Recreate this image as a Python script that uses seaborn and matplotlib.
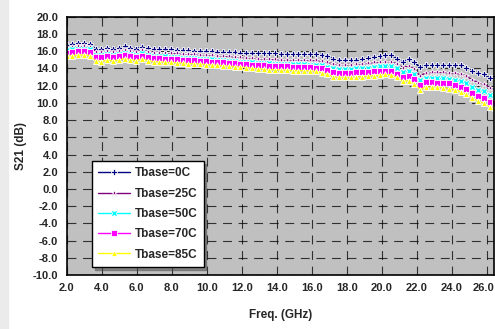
import numpy as np
import pandas as pd
import matplotlib
matplotlib.use("Agg")
import matplotlib.pyplot as plt
import matplotlib.transforms as mtrans
import seaborn as sb
from matplotlib.patches import Rectangle

# S21 vs frequency for five base temperatures
freq = np.round(np.linspace(2.0, 26.5, 75), 3)

s21_0C = [16.75, 16.85, 16.90, 16.90, 16.85, 16.25, 16.25, 16.35, 16.30, 16.35,
          16.55, 16.40, 16.30, 16.50, 16.35, 16.25, 16.25, 16.20, 16.20, 16.15,
          16.10, 16.10, 16.05, 16.05, 16.00, 16.00, 15.95, 15.95, 15.90, 15.90,
          15.85, 15.85, 15.80, 15.80, 15.75, 15.80, 15.75, 15.70, 15.70, 15.65,
          15.65, 15.70, 15.65, 15.70, 15.60, 15.45, 15.10, 15.00, 14.95, 14.95,
          15.00, 15.10, 15.20, 15.30, 15.40, 15.55, 15.55, 15.15, 14.70, 15.05,
          14.70, 14.15, 14.35, 14.40, 14.40, 14.40, 14.40, 14.35, 14.35, 14.10,
          13.70, 13.45, 13.35, 12.90, 13.15]
s21_25C = [16.40, 16.50, 16.55, 16.55, 16.50, 15.95, 15.95, 16.00, 15.95, 16.00,
           16.15, 16.05, 15.95, 16.10, 15.95, 15.85, 15.85, 15.80, 15.75, 15.75,
           15.70, 15.65, 15.65, 15.60, 15.60, 15.55, 15.50, 15.45, 15.40, 15.35,
           15.30, 15.25, 15.20, 15.15, 15.10, 15.10, 15.05, 15.00, 15.00, 14.95,
           14.95, 15.00, 14.95, 14.95, 14.85, 14.70, 14.50, 14.45, 14.45, 14.45,
           14.50, 14.55, 14.60, 14.70, 14.75, 14.80, 14.80, 14.50, 14.10, 14.30,
           13.95, 13.10, 13.50, 13.55, 13.55, 13.55, 13.50, 13.45, 13.35, 13.10,
           12.65, 12.35, 12.20, 11.75, 11.70]
s21_50C = [16.10, 16.20, 16.25, 16.25, 16.20, 15.60, 15.55, 15.65, 15.60, 15.65,
           15.80, 15.70, 15.60, 15.75, 15.60, 15.50, 15.45, 15.40, 15.35, 15.30,
           15.25, 15.20, 15.20, 15.15, 15.10, 15.05, 15.00, 14.95, 14.90, 14.85,
           14.80, 14.75, 14.70, 14.65, 14.60, 14.60, 14.55, 14.55, 14.55, 14.50,
           14.50, 14.50, 14.45, 14.45, 14.35, 14.20, 14.00, 13.95, 13.95, 13.95,
           14.00, 14.05, 14.10, 14.20, 14.25, 14.30, 14.30, 14.00, 13.60, 13.70,
           13.35, 12.60, 12.90, 12.90, 12.85, 12.85, 12.80, 12.70, 12.55, 12.30,
           11.85, 11.55, 11.35, 10.90, 10.75]
s21_70C = [15.85, 15.95, 16.00, 16.00, 15.95, 15.35, 15.30, 15.40, 15.35, 15.40,
           15.55, 15.45, 15.35, 15.50, 15.35, 15.25, 15.20, 15.15, 15.10, 15.05,
           15.00, 14.95, 14.95, 14.90, 14.85, 14.80, 14.75, 14.70, 14.65, 14.60,
           14.55, 14.50, 14.45, 14.40, 14.35, 14.30, 14.30, 14.25, 14.25, 14.20,
           14.20, 14.20, 14.15, 14.10, 14.00, 13.80, 13.55, 13.50, 13.50, 13.50,
           13.55, 13.55, 13.60, 13.65, 13.70, 13.75, 13.70, 13.40, 13.00, 13.10,
           12.75, 12.05, 12.40, 12.40, 12.35, 12.30, 12.25, 12.10, 11.90, 11.60,
           11.15, 10.80, 10.55, 10.10, 9.95]
s21_85C = [15.40, 15.50, 15.55, 15.55, 15.50, 14.85, 14.80, 14.95, 14.90, 14.95,
           15.15, 15.00, 14.90, 15.10, 14.90, 14.80, 14.75, 14.70, 14.70, 14.65,
           14.60, 14.55, 14.55, 14.50, 14.45, 14.40, 14.35, 14.30, 14.25, 14.20,
           14.15, 14.10, 14.00, 13.95, 13.90, 13.85, 13.85, 13.80, 13.80, 13.75,
           13.75, 13.75, 13.70, 13.65, 13.50, 13.30, 13.00, 12.95, 12.95, 12.95,
           13.00, 13.05, 13.10, 13.15, 13.20, 13.30, 13.25, 12.95, 12.50, 12.55,
           12.20, 11.55, 11.85, 11.85, 11.80, 11.75, 11.65, 11.50, 11.30, 11.00,
           10.55, 10.20, 9.95, 9.50, 9.35]

labels = ["Tbase=0C", "Tbase=25C", "Tbase=50C", "Tbase=70C", "Tbase=85C"]
series = [s21_0C, s21_25C, s21_50C, s21_70C, s21_85C]
colors = ["#000080", "#800080", "#00FFFF", "#FF00FF", "#FFFF00"]
marks = ["P", "*", "X", "s", "^"]

df = pd.concat([pd.DataFrame({"freq": freq, "s21": s, "curve": lab})
                for s, lab in zip(series, labels)], ignore_index=True)

sb.set_style("white")
plt.rcParams["font.family"] = ["Liberation Sans", "DejaVu Sans"]
plt.rcParams["font.weight"] = "bold"

fig = plt.figure(figsize=(4.95, 3.29), dpi=100)
fig.patches.append(Rectangle((0, 0), 8 / 495, 1, transform=fig.transFigure,
                             color="#ebebeb", zorder=0))
ax = fig.add_axes([0.1347, 0.164, 0.8633, 0.785])
ax.set_facecolor("#c0c0c0")

sb.lineplot(data=df, x="freq", y="s21", hue="curve", style="curve",
            palette=dict(zip(labels, colors)), markers=dict(zip(labels, marks)),
            dashes=False, linewidth=1, markersize=5, markeredgewidth=0.6,
            ax=ax)

xt = np.arange(2, 27, 2)
yt = np.arange(-10, 21, 2)
ax.set_xlim(2.0, 26.42)
ax.set_ylim(-10, 20)
ax.set_xticks(xt)
ax.set_yticks(yt)
ax.set_xticklabels([f"{v:.1f}" for v in xt], fontsize=8, fontweight="bold")
ax.set_yticklabels([f"{v:.1f}" for v in yt], fontsize=8, fontweight="bold")
ax.tick_params(direction="inout", length=6, width=1, color="black", pad=3)
# keep the last x label inside the figure
last = ax.get_xticklabels()[-1]
last.set_transform(last.get_transform() +
                   mtrans.ScaledTranslation(-3 / 100, 0, fig.dpi_scale_trans))
ax.grid(True, color="black", linestyle=(0, (8, 6)), linewidth=0.8, alpha=0.75)
ax.set_axisbelow(True)
for sp in ax.spines.values():
    sp.set_color("black")
    sp.set_linewidth(1.2)

ax.set_xlabel("Freq. (GHz)", fontsize=8.5, fontweight="bold", labelpad=11)
ax.set_ylabel("S21 (dB)", fontsize=8.5, fontweight="bold", labelpad=4)

leg = ax.legend(loc="lower left", bbox_to_anchor=(0.059, 0.031), borderaxespad=0,
                frameon=True, fancybox=False, shadow=True, fontsize=8.5,
                handlelength=2.7, labelspacing=0.7, borderpad=0.55,
                handletextpad=0.35)
leg.get_frame().set_edgecolor("black")
leg.get_frame().set_linewidth(1)
for t in leg.get_texts():
    t.set_fontweight("bold")

fig.savefig("out.png", dpi=100)
